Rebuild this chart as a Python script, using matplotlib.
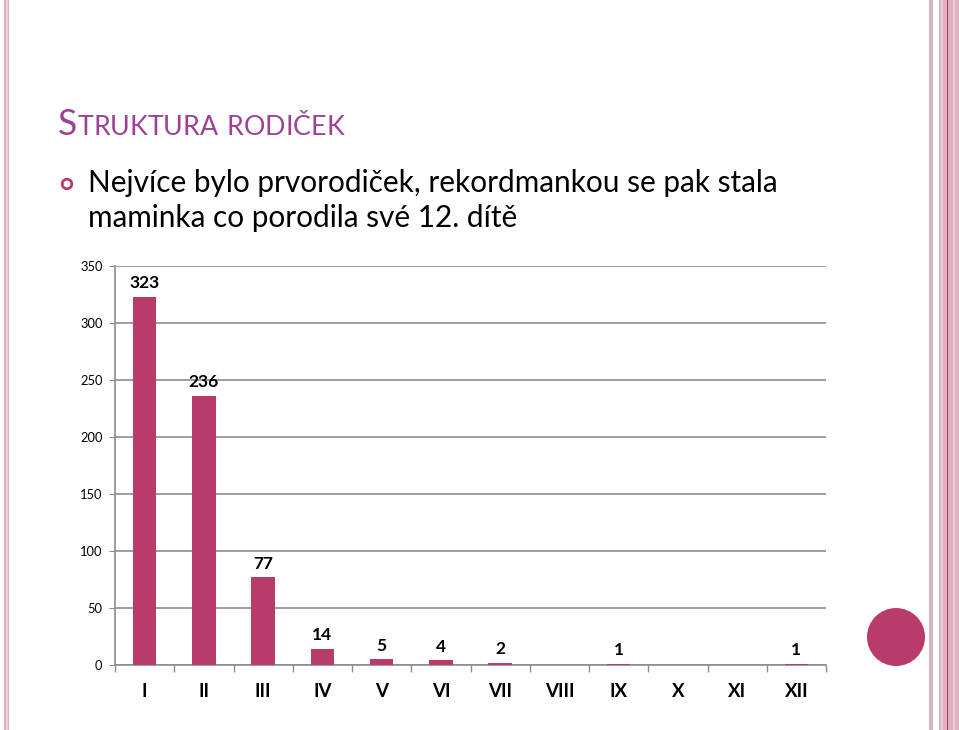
import matplotlib
matplotlib.use("Agg")
import matplotlib.pyplot as plt
from matplotlib.patches import Rectangle, Circle
from matplotlib.transforms import IdentityTransform

# chart data
categories = ['I', 'II', 'III', 'IV', 'V', 'VI', 'VII', 'VIII', 'IX', 'X', 'XI', 'XII']
counts = [323, 236, 77, 14, 5, 4, 2, 0, 1, 0, 0, 1]
y_ticks = [0, 50, 100, 150, 200, 250, 300, 350]

title_text = 'Struktura rodiček'
bullet_lines = ['Nejvíce bylo prvorodiček, rekordmankou se pak stala',
                'maminka co porodila své 12. dítě']

W, H = 959, 730
BAR = '#B93B6A'
PINK = '#DDB3C1'
PINK_LIGHT = '#EBCDD7'
GRID = '#8C8C8C'
FONT = 'Lato'

fig = plt.figure(figsize=(W / 100, H / 100), dpi=100)
fig.patch.set_facecolor('white')


def px(x, y):
    # pixel coords (top-left origin) to figure fraction
    return x / W, 1 - y / H


def vstripe(x0, x1, color):
    fig.patches.append(Rectangle((x0 / W, 0), (x1 - x0) / W, 1,
                                 transform=fig.transFigure, color=color, lw=0, zorder=0))


# decorative stripes at the slide edges
vstripe(4, 9, PINK)
vstripe(5.5, 7.5, PINK_LIGHT)
vstripe(929, 933, PINK)
vstripe(939, 947, PINK)
vstripe(941, 943, PINK_LIGHT)
vstripe(947, 948.3, '#B6385F')
vstripe(948.3, 959, PINK)
vstripe(953, 954.5, PINK_LIGHT)

# round marker on the right (drawn in pixels so it stays round)
fig.patches.append(Circle((896, H - 637), 29, transform=IdentityTransform(),
                          color=BAR, lw=0, zorder=1))

# title in small caps
renderer = fig.canvas.get_renderer()
x = 58
for word_i, word in enumerate(title_text.split()):
    if word_i > 0:
        x += 9
    for ch_i, ch in enumerate(word):
        big = word_i == 0 and ch_i == 0
        t = fig.text(*px(x, 135), ch.upper(), fontsize=25.6 if big else 19.3,
                     family=FONT, color='#9C4296', va='baseline', ha='left')
        bb = t.get_window_extent(renderer)
        x += bb.width

# bullet with hollow ring
fig.patches.append(Circle((67, H - 184), 4.8, transform=IdentityTransform(),
                          facecolor='none', edgecolor=BAR, lw=2.0, zorder=2))
for i, line in enumerate(bullet_lines):
    fig.text(*px(88, 192 + 35 * i), line, fontsize=21.4, family=FONT,
             color='black', va='baseline', ha='left')

# chart
ax = fig.add_axes([115 / W, 65 / H, 711 / W, 399 / H])
pos = list(range(len(categories)))
ax.bar(pos, counts, width=0.4, color=BAR, zorder=3)
ax.set_xlim(-0.5, len(categories) - 0.5)
ax.set_ylim(0, 350)

ax.set_yticks(y_ticks)
ax.set_yticklabels([str(v) for v in y_ticks], fontsize=9.3, family=FONT)
ax.yaxis.grid(True, color=GRID, lw=1.2, zorder=0)
ax.tick_params(axis='y', length=4, color=GRID, pad=5)

ax.set_xticks(pos)
ax.set_xticklabels(categories, fontsize=13.5, fontweight='bold', family=FONT)
ax.set_xticks([p - 0.5 for p in pos] + [len(categories) - 0.5], minor=True)
ax.tick_params(axis='x', which='major', length=0, pad=13)
ax.tick_params(axis='x', which='minor', length=5, color=GRID, width=1)

for s in ['top', 'right']:
    ax.spines[s].set_visible(False)
for s in ['left', 'bottom']:
    ax.spines[s].set_color(GRID)
    ax.spines[s].set_linewidth(1.2)

for p, v in zip(pos, counts):
    if v > 0:
        ax.annotate(str(v), (p, v), xytext=(0, 4), textcoords='offset points',
                    ha='center', va='bottom', fontsize=12.5, fontweight='bold',
                    family=FONT)

fig.savefig('out.png', dpi=100)
